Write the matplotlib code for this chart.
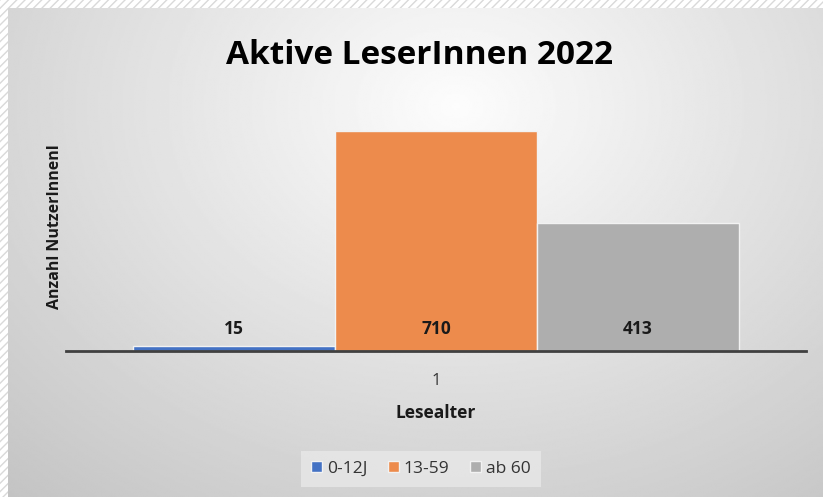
import numpy as np
import matplotlib.pyplot as plt
from matplotlib.patches import Rectangle

# data
series = ['0-12J', '13-59', 'ab 60']
values = [15, 710, 413]
colors = ['#4472C4', '#ED8B4C', '#AEAEAE']
category = '1'

W, H = 823, 497
fig = plt.figure(figsize=(W / 100, H / 100), dpi=100)
plt.rcParams['font.family'] = ['Open Sans', 'DejaVu Sans']

# hatched outer border
fig.patches.append(Rectangle((0, 0), 1, 1, transform=fig.transFigure,
                             facecolor='white', edgecolor='#d9d9d9',
                             hatch='////', linewidth=0, zorder=-10))

# radial gray gradient as chart background
bg = fig.add_axes([8 / W, 0, (W - 8) / W, (H - 8) / H], zorder=-5)
yy, xx = np.mgrid[0:1:300j, 0:1:500j]
r = np.sqrt(((xx - 0.55) / 1.0) ** 2 + ((yy - 0.2) / 1.3) ** 2)
grad = 0.99 - 0.27 * r
bg.imshow(grad, cmap='gray', vmin=0, vmax=1, aspect='auto',
          extent=[0, 1, 1, 0], interpolation='bilinear')
bg.axis('off')

# main axes
ax = fig.add_axes([66 / W, 1 - 351 / H, (806 - 66) / W, (351 - 103) / H])
ax.patch.set_alpha(0)
ax.set_xlim(0.5, 1.5)
ax.set_ylim(0, 800)

bw = 202 / 740
offsets = [-bw, 0, bw]
for name, v, c, off in zip(series, values, colors, offsets):
    ax.bar(1 + off, v, width=bw, color=c, edgecolor='#f2f2f2',
           linewidth=1, label=name)
    ax.annotate(str(v), (1 + off, 0), xytext=(0, 9), textcoords='offset points',
                ha='center', va='bottom', fontsize=12.5, fontweight='bold',
                color='#1a1a1a')

for s in ['top', 'right', 'left']:
    ax.spines[s].set_visible(False)
ax.spines['bottom'].set_color('#404040')
ax.spines['bottom'].set_linewidth(2)
ax.set_yticks([])
ax.set_xticks([1])
ax.set_xticklabels([category], fontsize=12, color='#333333')
ax.tick_params(axis='x', length=0, pad=16)

ax.set_xlabel('Lesealter', fontsize=12.5, fontweight='bold', labelpad=11, color='#1a1a1a')
ax.set_ylabel('Anzahl NutzerInnenl', fontsize=11.5, fontweight='bold', labelpad=2,
              color='#1a1a1a')

fig.text(420 / W, 1 - 55 / H, 'Aktive LeserInnen 2022', ha='center', va='center',
         fontsize=24, fontweight='bold', color='#000000')

leg = fig.legend(loc='center', bbox_to_anchor=(421 / W, 1 - 469 / H), ncol=3,
                 frameon=True, fancybox=False, fontsize=12.5, handlelength=0.6,
                 handleheight=0.6, handletextpad=0.3, columnspacing=1.2,
                 borderpad=0.6)
leg.get_frame().set_facecolor('#e8e8e8')
leg.get_frame().set_edgecolor('none')
leg.get_frame().set_alpha(0.8)
for t in leg.get_texts():
    t.set_color('#333333')

fig.savefig('out.png', dpi=100)
